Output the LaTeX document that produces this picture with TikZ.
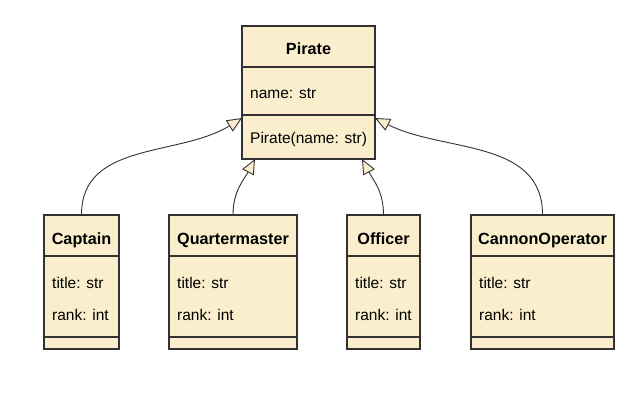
\documentclass[tikz,border=0pt]{standalone}
\usepackage{fontspec}
\setmainfont{Liberation Sans}
\usetikzlibrary{arrows.meta}
\definecolor{cream}{RGB}{250,238,205}
\definecolor{edge}{RGB}{50,50,50}
\begin{document}
\begin{tikzpicture}[x=1pt,y=-1pt,
  classbox/.style={draw=edge, fill=cream, line width=1.1pt, inner sep=0pt},
  divline/.style={draw=edge, line width=1.1pt},
  ctitle/.style={font=\fontsize{16.2}{19}\selectfont\bfseries, text=black, inner sep=0pt, anchor=base},
  attr/.style={font=\fontsize{15.5}{18}\selectfont, text=black, anchor=base west, inner sep=0pt},
  inh/.style={draw=edge, line width=0.9pt, -{Triangle[length=15pt,width=13pt,fill=cream]}}]
\fill[white] (0,0) rectangle (640,400);
\useasboundingbox (0,0) rectangle (640,400);

% Pirate
\node[classbox, minimum width=133pt, minimum height=133pt] (pirate) at (308.5,92.5) {};
\draw[divline] (242,67) -- (375,67);
\draw[divline] (242,115) -- (375,115);
\node[ctitle] (pirateT) at (308.5,54) {Pirate};
\node[attr] (pirateA) at (250,98.5) {name: str};
\node[attr] (pirateM) at (250,143.5) {Pirate(name: str)};

% Captain
\node[classbox, minimum width=75pt, minimum height=134pt] (captain) at (81.5,282) {};
\draw[divline] (44,256) -- (119,256);
\draw[divline] (44,337) -- (119,337);
\node[ctitle] (captainT) at (81.5,244.5) {Captain};
\node[attr] (captainA) at (52,288.5) {title: str};
\node[attr] (captainB) at (52,320.5) {rank: int};

% Quartermaster
\node[classbox, minimum width=128pt, minimum height=134pt] (qm) at (233,282) {};
\draw[divline] (169,256) -- (297,256);
\draw[divline] (169,337) -- (297,337);
\node[ctitle] (qmT) at (233,244.5) {Quartermaster};
\node[attr] (qmA) at (177,288.5) {title: str};
\node[attr] (qmB) at (177,320.5) {rank: int};

% Officer
\node[classbox, minimum width=73pt, minimum height=134pt] (officer) at (383.5,282) {};
\draw[divline] (347,256) -- (420,256);
\draw[divline] (347,337) -- (420,337);
\node[ctitle] (officerT) at (383.5,244.5) {Officer};
\node[attr] (officerA) at (355,288.5) {title: str};
\node[attr] (officerB) at (355,320.5) {rank: int};

% CannonOperator
\node[classbox, minimum width=143pt, minimum height=134pt] (cannon) at (542.5,282) {};
\draw[divline] (471,256) -- (614,256);
\draw[divline] (471,337) -- (614,337);
\node[ctitle] (cannonT) at (542.5,244.5) {CannonOperator};
\node[attr] (cannonA) at (479,288.5) {title: str};
\node[attr] (cannonB) at (479,320.5) {rank: int};

% targets on Pirate
\coordinate (pL) at (242,118);
\coordinate (pR) at (375,118);
\coordinate (pBL) at (255,159);
\coordinate (pBR) at (362,159);

\draw[inh] (captain.north) to[out=90,in=212] (pL);
\draw[inh] (qm.north) to[out=90,in=242] (pBL);
\draw[inh] (officer.north) to[out=90,in=298] (pBR);
\draw[inh] (cannon.north) to[out=90,in=333] (pR);
\end{tikzpicture}
\end{document}
